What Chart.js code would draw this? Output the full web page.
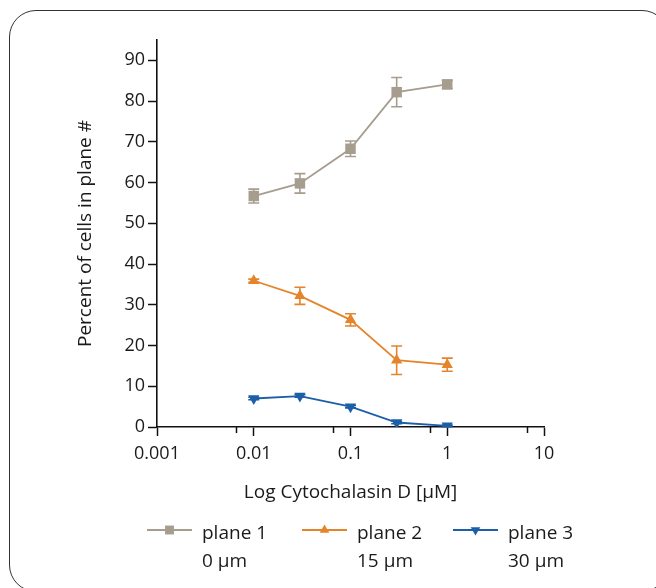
<!DOCTYPE html>
<html>
<head>
<meta charset="utf-8">
<script src="https://cdn.jsdelivr.net/npm/chart.js@4"></script>
<style>
  html, body { margin: 0; padding: 0; background: #fff; overflow: hidden; }
  #wrap { position: relative; width: 656px; height: 588px; overflow: hidden; }
  #frame { position: absolute; left: 9px; top: 10px; width: 660px; height: 582px;
           border: 1.4px solid #333; border-radius: 27px; box-sizing: border-box; pointer-events: none; }
  canvas { position: absolute; left: 0; top: 0; }
</style>
</head>
<body>
<div id="wrap">
  <canvas id="c" width="656" height="588"></canvas>
  <div id="frame"></div>
</div>
<script>
// ---- data ----
const concentrations = [0.01, 0.03, 0.1, 0.3, 1];
const seriesNames = ['plane 1', 'plane 2', 'plane 3'];
const depthLabels = ['0 μm', '15 μm', '30 μm'];
const plane1 = [56.7, 59.8, 68.3, 82.2, 84.1];
const plane1Err = [1.7, 2.4, 1.9, 3.6, 1.0];
const plane2 = [35.9, 32.2, 26.3, 16.4, 15.3];
const plane2Err = [0.4, 2.1, 1.5, 3.5, 1.6];
const plane3 = [7.0, 7.6, 5.0, 1.1, 0.3];
const plane3Err = [0.3, 0.3, 0.3, 0.3, 0.2];
const xMajorTicks = [0.001, 0.01, 0.1, 1, 10];
const xMinorTicks = [0.0066, 0.066, 0.66, 6.6];
const yTicks = [0, 10, 20, 30, 40, 50, 60, 70, 80, 90];

const colors = ['#a69d8f', '#e5842a', '#1c5ea8'];
const styles = [
  { pointStyle: 'rect', rotation: 0, radius: 7.4 },
  { pointStyle: 'triangle', rotation: 0, radius: 6.5 },
  { pointStyle: 'triangle', rotation: 180, radius: 6.5 }
];
const values = [plane1, plane2, plane3];
const errors = [plane1Err, plane2Err, plane3Err];

const FONT = "'Open Sans', 'DejaVu Sans', sans-serif";

const datasets = values.map((v, i) => ({
  label: seriesNames[i],
  data: concentrations.map((x, j) => ({ x: x, y: v[j] })),
  borderColor: colors[i],
  backgroundColor: colors[i],
  borderWidth: 1.8,
  pointStyle: styles[i].pointStyle,
  rotation: styles[i].rotation,
  pointRadius: styles[i].radius,
  pointHoverRadius: styles[i].radius,
  pointBorderWidth: 0,
  tension: 0,
  errs: errors[i]
}));

const errorBars = {
  id: 'errorBars',
  beforeDatasetsDraw(chart) {
    const ctx = chart.ctx;
    const xs = chart.scales.x, ys = chart.scales.y;
    chart.data.datasets.forEach((ds) => {
      ctx.save();
      ctx.strokeStyle = ds.borderColor;
      ctx.lineWidth = 1.6;
      ds.data.forEach((p, j) => {
        const e = ds.errs[j];
        const px = xs.getPixelForValue(p.x);
        const top = ys.getPixelForValue(p.y + e);
        const bot = ys.getPixelForValue(p.y - e);
        const hw = 5.5;
        ctx.beginPath();
        ctx.moveTo(px, top); ctx.lineTo(px, bot);
        ctx.moveTo(px - hw, top); ctx.lineTo(px + hw, top);
        ctx.moveTo(px - hw, bot); ctx.lineTo(px + hw, bot);
        ctx.stroke();
      });
      ctx.restore();
    });
  }
};

const minorTicks = {
  id: 'minorTicks',
  afterDraw(chart) {
    const ctx = chart.ctx;
    const xs = chart.scales.x;
    const y0 = chart.chartArea.bottom;
    ctx.save();
    ctx.strokeStyle = '#111';
    ctx.lineWidth = 1.5;
    xMinorTicks.forEach(v => {
      const px = Math.round(xs.getPixelForValue(v)) + 0.5;
      ctx.beginPath();
      ctx.moveTo(px, y0); ctx.lineTo(px, y0 + 6);
      ctx.stroke();
    });
    ctx.restore();
  }
};

const customLegend = {
  id: 'customLegend',
  afterDraw(chart) {
    const ctx = chart.ctx;
    const starts = [147, 302, 453];
    const lineLen = 45;
    const rowY = 530;
    ctx.save();
    chart.data.datasets.forEach((ds, i) => {
      const x0 = starts[i];
      ctx.strokeStyle = ds.borderColor;
      ctx.fillStyle = ds.backgroundColor;
      ctx.lineWidth = 1.8;
      ctx.beginPath();
      ctx.moveTo(x0, rowY); ctx.lineTo(x0 + lineLen, rowY);
      ctx.stroke();
      Chart.helpers.drawPoint(ctx, {
        pointStyle: ds.pointStyle, rotation: ds.rotation,
        radius: ds.pointRadius * 0.85, borderWidth: 0
      }, x0 + lineLen / 2, rowY);
      ctx.fillStyle = '#1a1a1a';
      ctx.font = "19px " + FONT;
      ctx.textBaseline = 'alphabetic';
      ctx.textAlign = 'left';
      ctx.fillText(seriesNames[i], x0 + 55, 539);
      ctx.fillText(depthLabels[i], x0 + 55, 567);
    });
    ctx.restore();
  }
};

new Chart(document.getElementById('c'), {
  type: 'line',
  data: { datasets: datasets },
  options: {
    responsive: false,
    animation: false,
    devicePixelRatio: 1,
    layout: { padding: { top: 40, right: 112, bottom: 0, left: 0 } },
    plugins: { legend: { display: false }, tooltip: { enabled: false } },
    scales: {
      x: {
        type: 'logarithmic',
        min: 0.001, max: 10,
        afterBuildTicks(scale) { scale.ticks = xMajorTicks.map(v => ({ value: v })); },
        afterFit(scale) { scale.height = 161; },
        ticks: {
          color: '#1a1a1a', font: { family: FONT, size: 18 }, padding: 7,
          maxRotation: 0, autoSkip: false,
          callback: (v) => String(v)
        },
        grid: { drawOnChartArea: false, drawTicks: true, tickLength: 9, tickColor: '#111', tickWidth: 1.5 },
        border: { display: true, color: '#111', width: 1.6 },
        title: { display: true, text: 'Log Cytochalasin D [μM]', color: '#1a1a1a',
                 font: { family: FONT, size: 19 }, padding: { top: 0, bottom: 84 } }
      },
      y: {
        min: 0, max: 95,
        afterBuildTicks(scale) { scale.ticks = yTicks.map(v => ({ value: v })); },
        afterFit(scale) { scale.width = 157; },
        ticks: { color: '#1a1a1a', font: { family: FONT, size: 18 }, padding: 3 },
        grid: { drawOnChartArea: false, drawTicks: true, tickLength: 9, tickColor: '#111', tickWidth: 1.5 },
        border: { display: true, color: '#111', width: 1.6 },
        title: { display: true, text: 'Percent of cells in plane #', color: '#1a1a1a',
                 font: { family: FONT, size: 19 }, padding: { top: 74, bottom: 0 } }
      }
    }
  },
  plugins: [errorBars, minorTicks, customLegend]
});
</script>
</body>
</html>
